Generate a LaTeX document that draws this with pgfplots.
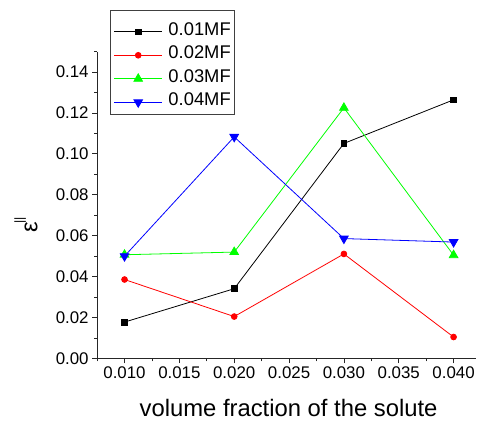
\documentclass[border=0pt]{standalone}
\usepackage{pgfplots}
\pgfplotsset{compat=1.18}
\usepackage{fontspec}
\setmainfont{Liberation Sans}
\begin{document}
\begin{tikzpicture}
\begin{axis}[
  scale only axis,
  width=380bp, height=308.25bp,
  xmin=0.0075, xmax=0.042,
  ymin=0, ymax=0.15,
  axis x line*=bottom, axis y line*=left,
  axis line style={-, line width=0.8bp, black!85},
  xtick={0.010,0.015,0.020,0.025,0.030,0.035,0.040},
  minor xtick={0.0075,0.0125,0.0175,0.0225,0.0275,0.0325,0.0375},
  ytick={0,0.02,0.04,0.06,0.08,0.10,0.12,0.14},
  minor ytick={0.01,0.03,0.05,0.07,0.09,0.11,0.13,0.15},
  tick align=outside,
  major tick length=5bp, minor tick length=3bp,
  tick style={line width=0.8bp, black!85},
  scaled ticks=false,
  /pgf/number format/assume math mode=true,
  x tick label style={/pgf/number format/.cd, fixed, fixed zerofill, precision=3},
  y tick label style={/pgf/number format/.cd, fixed, fixed zerofill, precision=2},
  tick label style={font=\fontsize{17}{20}\selectfont},
  xlabel={volume fraction of the solute},
  xlabel style={font=\fontsize{24}{28}\selectfont, at={(axis description cs:0.506,-0.188)}, anchor=base},
  ylabel={ε\raisebox{14bp}{\fontsize{12.5}{13}\selectfont\kern-2bp||}},
  ylabel style={font=\fontsize{24}{28}\selectfont, at={(axis description cs:-0.188,0.435)}, anchor=center},
  legend cell align=left,
  legend style={at={(axis description cs:0.0329,1.1354)}, anchor=north west,
    font=\fontsize{18.5}{20}\selectfont, draw=black!75, line width=0.8bp,
    inner xsep=4bp, inner ysep=7bp,
    nodes={inner sep=0pt, text height=18bp, text depth=0bp},
    row sep=5.6bp, column sep=6bp},
  legend image code/.code={\draw[mark repeat=2, mark phase=2] plot coordinates {(0bp,-5.5bp)(24bp,-5.5bp)(48bp,-5.5bp)};},
  every axis plot/.append style={line width=0.8bp},
  clip=false,
]
\addplot[black, mark=square*, mark size=2.85bp, mark options={solid}] coordinates {
  (0.010,0.0178) (0.020,0.0341) (0.030,0.1051) (0.040,0.1264)};
\addlegendentry{0.01MF}
\addplot[red, mark=*, mark size=2.9bp] coordinates {
  (0.010,0.0386) (0.020,0.0205) (0.030,0.0511) (0.040,0.0105)};
\addlegendentry{0.02MF}
\addplot[color={rgb,255:red,0;green,255;blue,0}, mark=triangle*, mark size=5bp] coordinates {
  (0.010,0.0507) (0.020,0.0520) (0.030,0.1225) (0.040,0.0505)};
\addlegendentry{0.03MF}
\addplot[blue, mark=triangle*, mark size=5bp, mark options={rotate=180}] coordinates {
  (0.010,0.0500) (0.020,0.1083) (0.030,0.0586) (0.040,0.0569)};
\addlegendentry{0.04MF}
\coordinate (O) at (rel axis cs:0,0);
\end{axis}
\path (O) ++(-97.5bp,-65bp) rectangle ++(478bp,425bp);
\end{tikzpicture}
\end{document}
